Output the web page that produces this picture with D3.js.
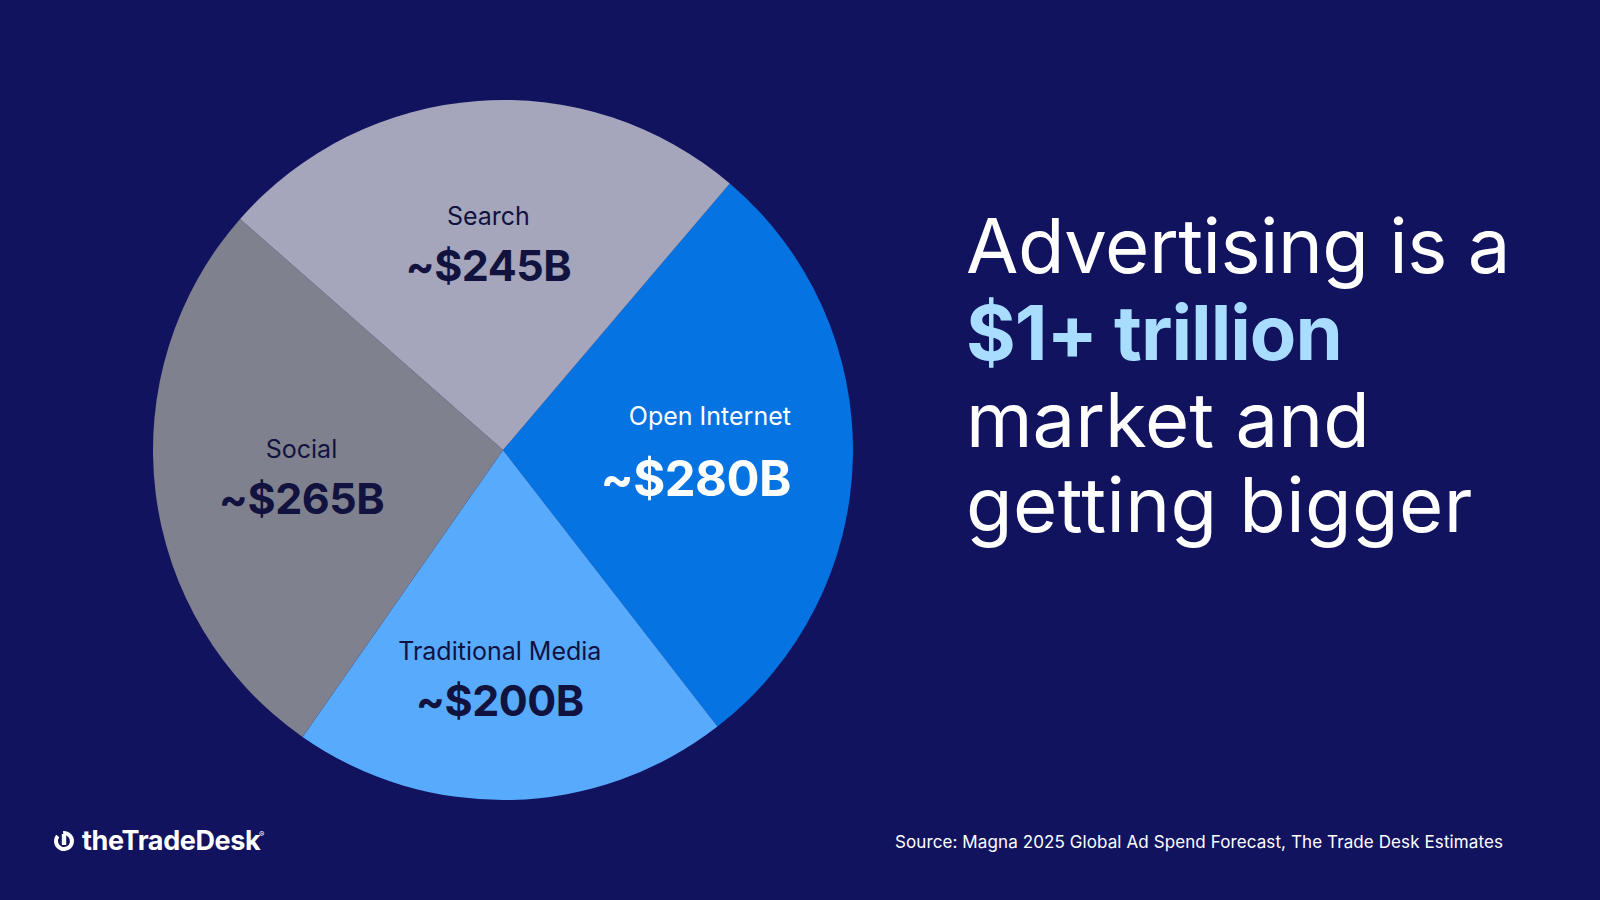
<!DOCTYPE html>
<html>
<head>
<meta charset="utf-8">
<script src="https://cdn.jsdelivr.net/npm/d3@7"></script>
<style>
  html, body { margin: 0; padding: 0; background: #11135f; }
  svg { display: block; font-family: Inter, "Noto Sans", sans-serif; }
</style>
</head>
<body>
<script>
// data
const segments = ["Open Internet", "Traditional Media", "Social", "Search"];
const spend = [280, 200, 265, 245];          // $B
const valueLabels = ["~$280B", "~$200B", "~$265B", "~$245B"];
const sliceColors = ["#0573e1", "#57aafc", "#80818f", "#a5a6bb"];
const labelColors = ["#ffffff", "#12123f", "#12123f", "#12123f"];

const headline = ["Advertising is a", "$1+ trillion", "market and", "getting bigger"];
const sourceText = "Source: Magna 2025 Global Ad Spend Forecast, The Trade Desk Estimates";

const W = 1600, H = 900;
const cx = 503, cy = 450, radius = 350;
const startDeg = 40.4;

// label layout (radius along slice middle + small nudges)
const labelRadius = [200, 234, 203, 202];
const labelNudge = [[88, -6], [-9, 0], [0, 8], [0, 0]];
const labelAnchor = ["end", "middle", "middle", "middle"];
const valueSize = [49, 43, 43, 43];
const valueDy = [47, 32, 32, 32];

const svg = d3.select("body").append("svg")
    .attr("width", W)
    .attr("height", H);

svg.append("rect").attr("width", W).attr("height", H).attr("fill", "#11135f");

const pie = d3.pie()
    .sort(null)
    .value(d => d.value)
    .startAngle(startDeg * Math.PI / 180)
    .endAngle(startDeg * Math.PI / 180 + 2 * Math.PI);

const rows = segments.map((s, i) => ({name: s, value: spend[i], label: valueLabels[i], i: i}));
const arcs = pie(rows);

const arc = d3.arc().innerRadius(0).outerRadius(radius);

const g = svg.append("g").attr("transform", "translate(" + cx + "," + cy + ")");

g.selectAll("path.slice")
    .data(arcs)
    .enter()
    .append("path")
    .attr("class", "slice")
    .attr("d", arc)
    .attr("fill", d => sliceColors[d.data.i]);

// labels
const lab = g.selectAll("g.lab")
    .data(arcs)
    .enter()
    .append("g")
    .attr("class", "lab")
    .attr("transform", d => {
        const i = d.data.i;
        const r = labelRadius[i];
        const c = d3.arc().innerRadius(r).outerRadius(r).centroid(d);
        return "translate(" + (c[0] + labelNudge[i][0]) + "," + (c[1] + labelNudge[i][1]) + ")";
    });

lab.append("text")
    .attr("text-anchor", d => labelAnchor[d.data.i])
    .attr("y", -24)
    .attr("fill", d => labelColors[d.data.i])
    .style("font-size", "25px")
    .style("font-weight", 400)
    .text(d => d.data.name);

lab.append("text")
    .attr("text-anchor", d => labelAnchor[d.data.i])
    .attr("y", d => valueDy[d.data.i])
    .attr("fill", d => labelColors[d.data.i])
    .style("font-size", d => valueSize[d.data.i] + "px")
    .style("font-weight", 700)
    .style("letter-spacing", "-0.5px")
    .text(d => d.data.label);

// headline
const head = svg.append("g").attr("transform", "translate(966,0)");
const lineY = [273, 360, 447, 532];
const lineSpacing = ["-0.5px", "-1px", "0px", "0.4px"];
head.selectAll("text")
    .data(headline)
    .enter()
    .append("text")
    .attr("x", 0)
    .attr("y", (d, i) => lineY[i])
    .attr("fill", (d, i) => i === 1 ? "#a9ddff" : "#ffffff")
    .style("font-size", "76px")
    .style("font-weight", (d, i) => i === 1 ? 700 : 400)
    .style("letter-spacing", (d, i) => lineSpacing[i])
    .text(d => d);

// source
svg.append("text")
    .attr("x", 1503)
    .attr("y", 848)
    .attr("text-anchor", "end")
    .attr("fill", "#ffffff")
    .style("font-size", "17px")
    .style("letter-spacing", "0.1px")
    .text(sourceText);

// logo
const logo = svg.append("g").attr("transform", "translate(64,841)");
const ring = d3.arc().innerRadius(6).outerRadius(10)
    .startAngle(-0.1).endAngle(2 * Math.PI - 0.9);
logo.append("path").attr("d", ring()).attr("fill", "#ffffff");
logo.append("rect").attr("x", -2.2).attr("y", -7).attr("width", 4.4).attr("height", 11).attr("fill", "#ffffff");

svg.append("text")
    .attr("x", 82)
    .attr("y", 850)
    .attr("fill", "#ffffff")
    .style("font-size", "27px")
    .style("font-weight", 700)
    .style("letter-spacing", "-0.4px")
    .text("theTradeDesk");
svg.append("text")
    .attr("x", 259)
    .attr("y", 837)
    .attr("fill", "#ffffff")
    .style("font-size", "8px")
    .text("®");
</script>
</body>
</html>
